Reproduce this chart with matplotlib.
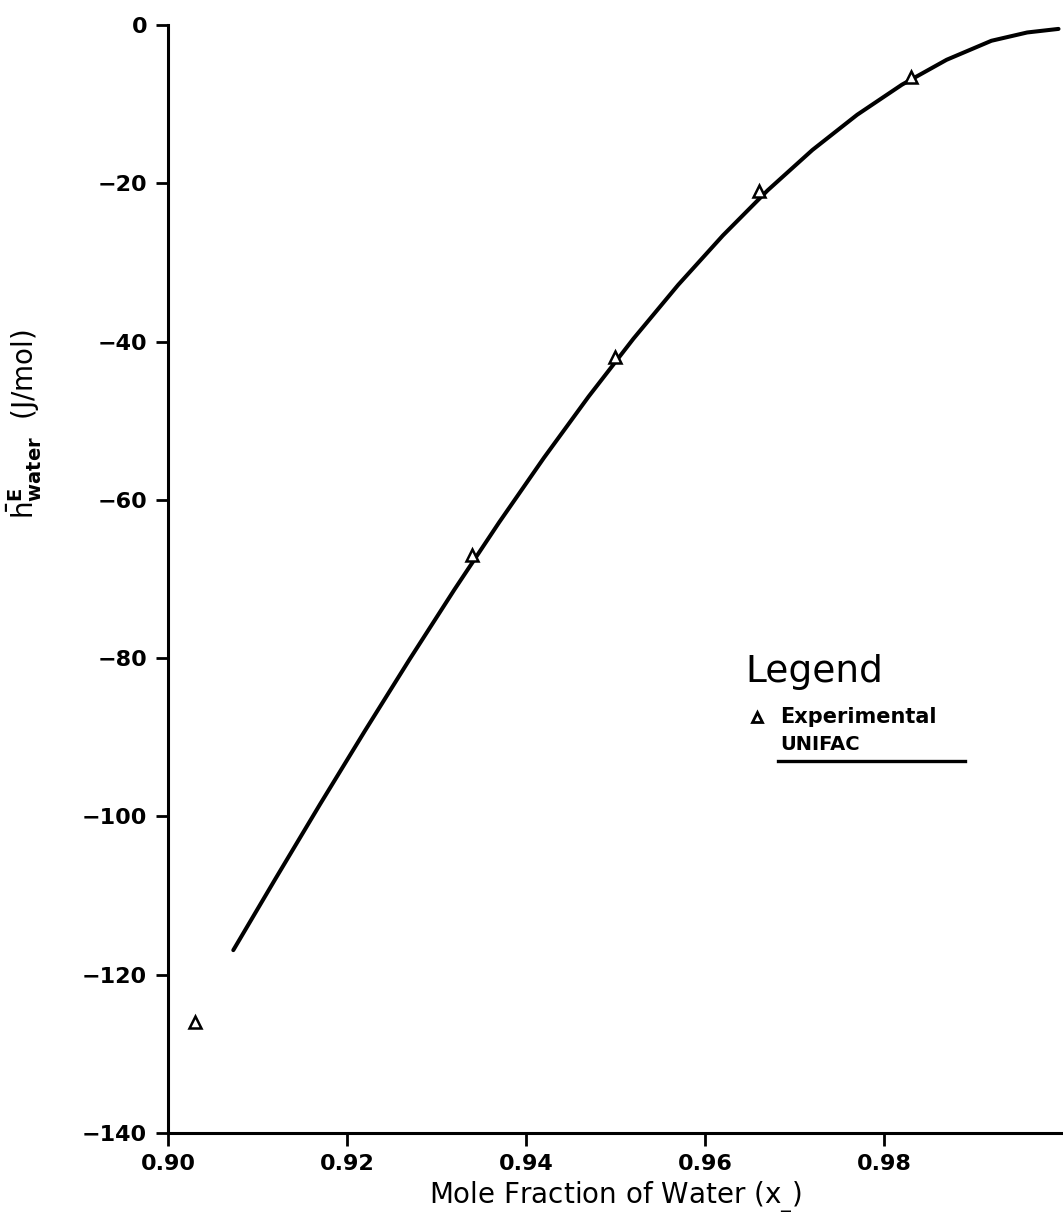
import matplotlib.pyplot as plt
from matplotlib.lines import Line2D

plt.rcParams['font.family'] = ['DejaVu Sans']
plt.rcParams['mathtext.fontset'] = 'dejavusans'

# experimental points
x_exp = [0.903, 0.934, 0.950, 0.966, 0.983]
h_exp = [-126.0, -67.0, -42.0, -21.0, -6.6]

# UNIFAC curve
x_unifac = [0.9073, 0.9120, 0.9170, 0.9220, 0.9270, 0.9320, 0.9370, 0.9420,
            0.9470, 0.9520, 0.9570, 0.9620, 0.9670, 0.9720, 0.9770, 0.9820,
            0.9870, 0.9920, 0.9960, 0.9995]
h_unifac = [-116.9, -107.9, -98.45, -89.2, -80.15, -71.35, -62.85, -54.7,
            -46.95, -39.65, -32.85, -26.6, -20.9, -15.8, -11.35, -7.55,
            -4.4, -2.0, -0.95, -0.5]

x_ticks = [0.90, 0.92, 0.94, 0.96, 0.98]
y_ticks = [0, -20, -40, -60, -80, -100, -120, -140]

fig = plt.figure(figsize=(10.63, 12.23), dpi=100)
ax = fig.add_axes([0.158, 0.0736, 0.842, 0.906])

ax.plot(x_unifac, h_unifac, color='black', lw=2.9, solid_capstyle='round',
        solid_joinstyle='round')
ax.plot(x_exp, h_exp, linestyle='none', marker='^', markersize=9,
        markerfacecolor='white', markeredgecolor='black', markeredgewidth=1.8)

ax.set_xlim(0.90, 1.0)
ax.set_ylim(-140, 0)
ax.set_xticks(x_ticks)
ax.set_xticklabels([f'{v:.2f}' for v in x_ticks], fontweight='bold', fontsize=16)
ax.set_yticks(y_ticks)
ax.set_yticklabels([str(v).replace('-', '\u2212') for v in y_ticks],
                   fontweight='bold', fontsize=16)

for s in ['top', 'right']:
    ax.spines[s].set_visible(False)
for s in ['left', 'bottom']:
    ax.spines[s].set_linewidth(2.2)

ax.tick_params(axis='both', direction='out', length=9, width=2, pad=6)

ax.set_xlabel('Mole Fraction of Water (x$_{\\_}$)', fontsize=20, labelpad=4)
ax.set_ylabel(r'$\bar{\mathrm{h}}^{\mathbf{E}}_{\mathbf{water}}$  (J/mol)', fontsize=20)
ax.yaxis.set_label_coords(-0.138, 0.64)

# legend drawn by hand, like the original
ax.text(0.645, 0.416, 'Legend', transform=ax.transAxes, fontsize=27,
        va='center', ha='left')
ax.plot([0.658], [0.375], transform=ax.transAxes, marker='^', markersize=7,
        markerfacecolor='white', markeredgecolor='black', markeredgewidth=2.0,
        clip_on=False)
ax.text(0.684, 0.375, 'Experimental', transform=ax.transAxes, fontsize=15,
        fontweight='bold', va='center', ha='left')
ax.text(0.684, 0.351, 'UNIFAC', transform=ax.transAxes, fontsize=14,
        fontweight='bold', va='center', ha='left')
ax.add_line(Line2D([0.682, 0.891], [0.336, 0.336], transform=ax.transAxes,
                   color='black', lw=2.4))

plt.savefig('out.png', dpi=100)
